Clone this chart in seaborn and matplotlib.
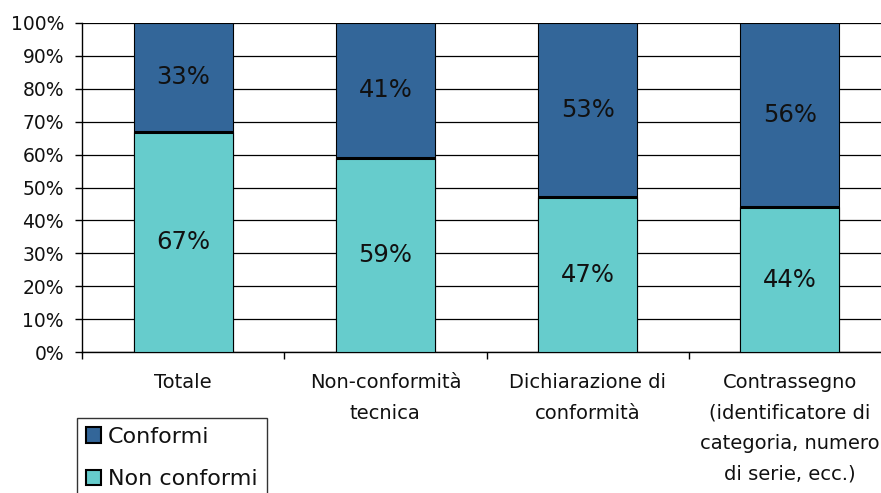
import matplotlib
matplotlib.use("Agg")
import matplotlib.pyplot as plt
import seaborn as sns
import pandas as pd
import numpy as np
from matplotlib.patches import Patch
from matplotlib.ticker import FixedLocator, PercentFormatter

categories = ["Totale", "Non-conformità\ntecnica", "Dichiarazione di\nconformità",
              "Contrassegno\n(identificatore di\ncategoria, numero\ndi serie, ecc.)"]
non_conformi = [67, 59, 47, 44]
conformi = [33, 41, 53, 56]
series_names = ["Conformi", "Non conformi"]
dark = "#336699"
light = "#66CCCC"

sns.set_theme(style="white")
plt.rcParams['font.family'] = ['DejaVu Sans']

df = pd.DataFrame({"cat": categories,
                   "total": np.array(non_conformi) + np.array(conformi),
                   "nc": non_conformi,
                   "c": conformi})

fig = plt.figure(figsize=(8.81, 4.93), dpi=100)
ax = fig.add_axes([82/881, 1-352/493, 809/881, 329/493])

ax.set_axisbelow(True)
ax.yaxis.grid(True, color="black", linewidth=0.9)

sns.barplot(data=df, x="cat", y="total", color=dark, saturation=1, width=0.49,
            edgecolor="black", linewidth=0.8, ax=ax, zorder=2)
sns.barplot(data=df, x="cat", y="nc", color=light, saturation=1, width=0.49,
            edgecolor="black", linewidth=0.8, ax=ax, zorder=3)

n = len(categories)
bars_light = ax.patches[n:2*n]
for i, p in enumerate(bars_light):
    x0, w = p.get_x(), p.get_width()
    ax.hlines(non_conformi[i], x0, x0 + w, color="black", linewidth=2.2, zorder=4)
    ax.text(x0 + w/2, non_conformi[i]/2, f"{non_conformi[i]}%", ha="center", va="center",
            fontsize=17.5, color="#111111", zorder=5)
    ax.text(x0 + w/2, non_conformi[i] + conformi[i]/2, f"{conformi[i]}%", ha="center",
            va="center", fontsize=17.5, color="#111111", zorder=5)

ax.set_xlim(-0.5, n - 0.5)
ax.set_ylim(0, 100)
ax.set_yticks(np.arange(0, 101, 10))
ax.yaxis.set_major_formatter(PercentFormatter(100, decimals=0))
ax.set_xlabel("")
ax.set_ylabel("")

ax.set_xticks(range(n))
ax.set_xticklabels(categories, fontsize=14, linespacing=1.78, va="top")
ax.xaxis.set_minor_locator(FixedLocator(np.arange(-0.5, n, 1.0)))
ax.tick_params(axis="x", which="major", length=0, pad=15)
ax.tick_params(axis="x", which="minor", length=5, width=1, color="black", direction="out", bottom=True)
ax.tick_params(axis="y", length=5, width=1, color="black", direction="out", left=True,
               labelsize=13.5, pad=8)
for lab in ax.get_yticklabels() + ax.get_xticklabels():
    lab.set_color("#111111")

for s in ["top", "right"]:
    ax.spines[s].set_visible(False)
for s in ["left", "bottom"]:
    ax.spines[s].set_color("black")
    ax.spines[s].set_linewidth(1)

handles = [Patch(facecolor=dark, edgecolor="black", linewidth=1.5, label=series_names[0]),
           Patch(facecolor=light, edgecolor="black", linewidth=1.5, label=series_names[1])]
leg = fig.legend(handles=handles, loc="upper left", bbox_to_anchor=(77/881, 1-418/493),
                 bbox_transform=fig.transFigure, frameon=True, fancybox=False, shadow=False,
                 fontsize=16, handlelength=0.7, handleheight=0.7, handletextpad=0.3,
                 labelspacing=1.0, borderpad=0.4, borderaxespad=0)
leg.get_frame().set_edgecolor("black")
leg.get_frame().set_linewidth(1)
for t in leg.get_texts():
    t.set_color("#111111")

fig.savefig("out.png", dpi=100)
